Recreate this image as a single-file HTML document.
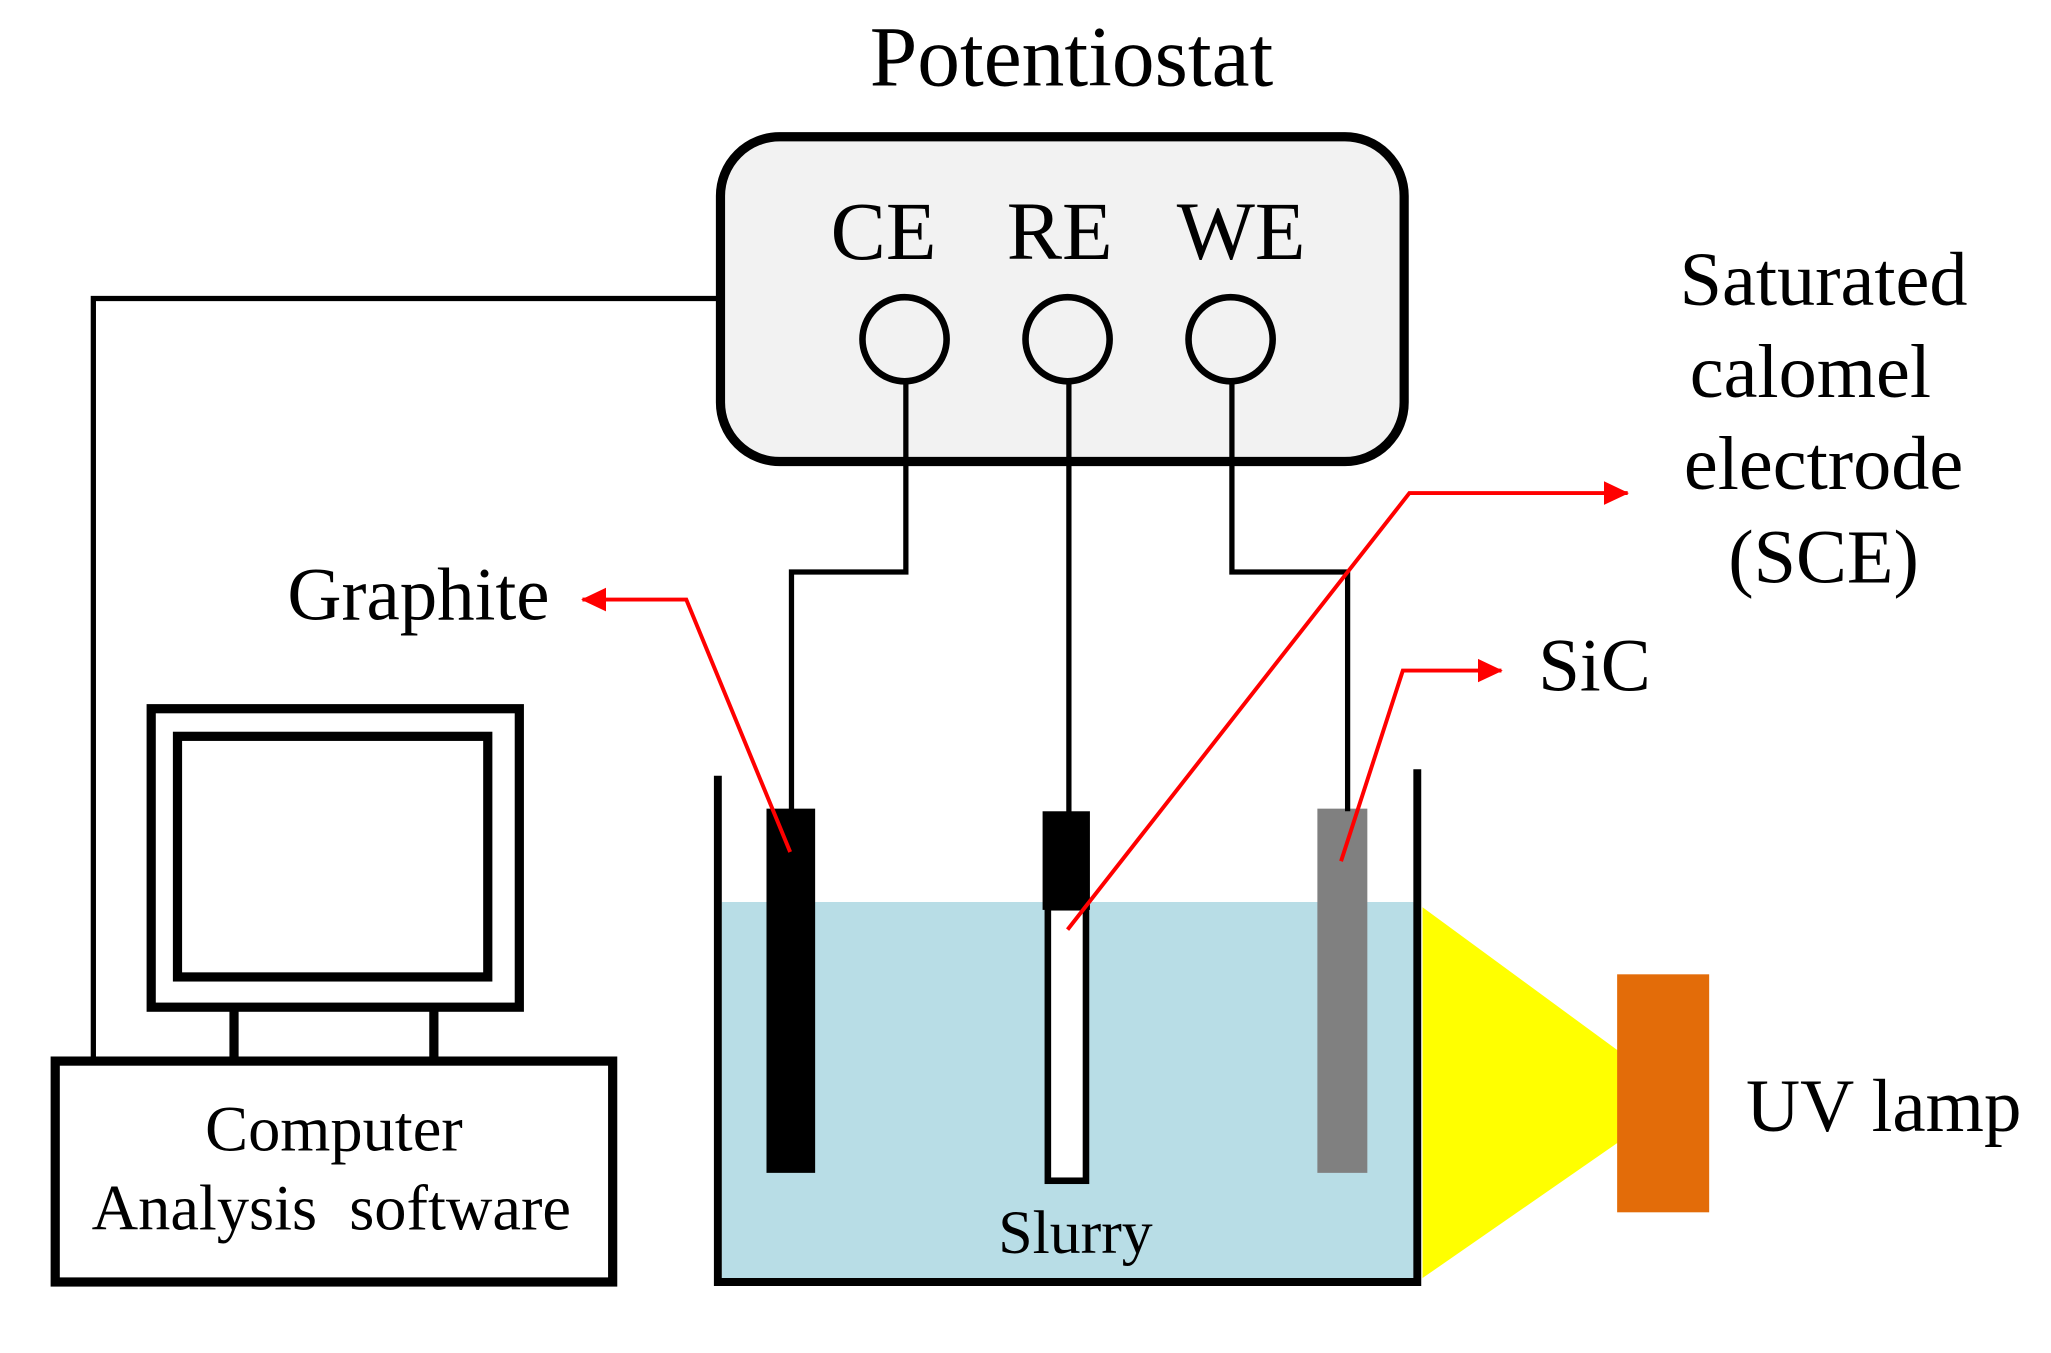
<!DOCTYPE html>
<html><head><meta charset="utf-8"><style>
html,body{margin:0;padding:0;background:#fff;}
svg{display:block;}
text{font-family:"Liberation Serif",serif;fill:#000;}
</style></head><body>
<svg width="2051" height="1353" viewBox="0 0 1560 1029" preserveAspectRatio="none" xmlns="http://www.w3.org/2000/svg">
<defs>
<marker id="ar" markerWidth="20" markerHeight="20" refX="18" refY="10" orient="auto" markerUnits="userSpaceOnUse" viewBox="0 0 20 20">
<path d="M0,1 L19,10 L0,19 z" fill="#ff0000"/>
</marker>
</defs>
<rect x="549" y="686" width="528" height="287" fill="#b8dde6"/>
<polygon points="1082,690 1232,800 1232,868 1082,972" fill="#ffff00"/>
<rect x="1230" y="741" width="70" height="181" fill="#e36c09"/>
<path d="M546,590 L546,975 L1078,975 L1078,585" fill="none" stroke="#000" stroke-width="6"/>
<rect x="583" y="615" width="37" height="277" fill="#000"/>
<rect x="793" y="617" width="36" height="75" fill="#000"/>
<rect x="797" y="690" width="29" height="208" fill="#fff" stroke="#000" stroke-width="5"/>
<rect x="1002" y="615" width="38" height="277" fill="#808080"/>
<text x="815" y="65" font-size="65" text-anchor="middle">Potentiostat</text>
<rect x="548" y="104" width="520" height="247" rx="45" fill="#f2f2f2" stroke="#000" stroke-width="7"/>
<text x="672" y="197" font-size="63" text-anchor="middle">CE</text>
<text x="806" y="197" font-size="63" text-anchor="middle">RE</text>
<text x="944" y="197" font-size="63" text-anchor="middle">WE</text>
<circle cx="688" cy="258" r="32" fill="none" stroke="#000" stroke-width="5"/>
<circle cx="812" cy="258" r="32" fill="none" stroke="#000" stroke-width="5"/>
<circle cx="936" cy="258" r="32" fill="none" stroke="#000" stroke-width="5"/>
<g fill="none" stroke="#000" stroke-width="4">
<path d="M689,290 L689,435 L602,435 L602,617"/>
<path d="M813,290 L813,618"/>
<path d="M937,290 L937,435 L1025,435 L1025,617"/>
<path d="M546,227 L71,227 L71,805"/>
</g>
<rect x="115" y="539" width="280" height="227" fill="none" stroke="#000" stroke-width="7"/>
<rect x="135" y="560" width="236" height="183" fill="none" stroke="#000" stroke-width="7"/>
<path d="M178,767 L178,805 M330,767 L330,805" stroke="#000" stroke-width="7"/>
<rect x="42" y="807" width="424" height="168" fill="#fff" stroke="#000" stroke-width="7"/>
<text x="254" y="875" font-size="49" text-anchor="middle">Computer</text>
<text x="252" y="935" font-size="49" text-anchor="middle" xml:space="preserve">Analysis  software</text>
<text x="818" y="953" font-size="47" text-anchor="middle">Slurry</text>
<text x="1328" y="860" font-size="57">UV lamp</text>
<text x="418" y="471" font-size="57" text-anchor="end">Graphite</text>
<text x="1170" y="525" font-size="57">SiC</text>
<g font-size="58" text-anchor="middle">
<text x="1387" y="232">Saturated</text>
<text x="1377" y="302">calomel</text>
<text x="1387" y="372">electrode</text>
<text x="1387" y="443">(SCE)</text>
</g>
<g fill="none" stroke="#ff0000" stroke-width="3">
<path d="M601,648 L522,456 L443,456" marker-end="url(#ar)"/>
<path d="M812,707 L1072,375 L1238,375" marker-end="url(#ar)"/>
<path d="M1020,655 L1067,510 L1142,510" marker-end="url(#ar)"/>
</g>
</svg>
</body></html>
